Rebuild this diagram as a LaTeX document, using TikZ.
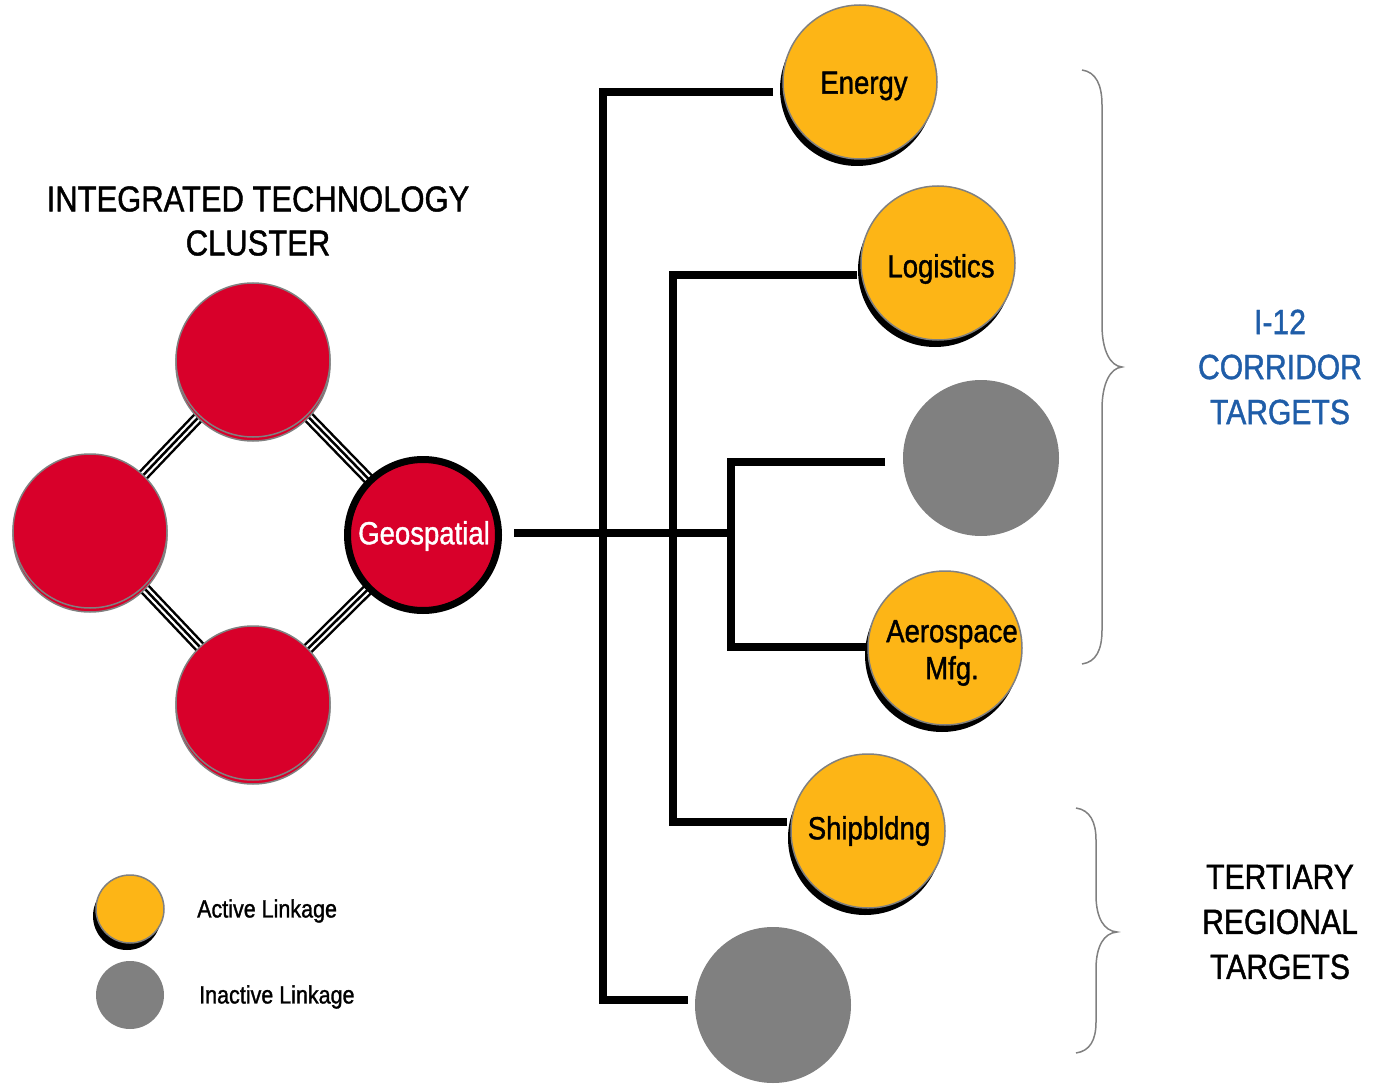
\documentclass[tikz,border=0pt]{standalone}
\usepackage{fontspec}
\setmainfont[FakeStretch=0.86,FakeBold=1.2]{Liberation Sans}
\usetikzlibrary{shadows,backgrounds}
\definecolor{cred}{RGB}{216,0,42}
\definecolor{cyel}{RGB}{253,181,22}
\definecolor{cgray}{RGB}{128,128,128}
\definecolor{cblue}{RGB}{31,93,168}
\begin{document}
\begin{tikzpicture}[x=1pt,y=-1pt,
  redc/.style={circle, fill=cred, draw=cgray, line width=1.5pt, minimum size=154pt, inner sep=0pt,
    drop shadow={shadow xshift=0pt, shadow yshift=-4pt, fill=cred, draw=cgray, opacity=1}},
  geoc/.style={circle, fill=cred, draw=black, line width=7pt, minimum size=151pt, inner sep=0pt},
  yelc/.style={circle, fill=cyel, draw=cgray, line width=1.5pt, minimum size=154pt, inner sep=0pt,
    drop shadow={shadow xshift=-3pt, shadow yshift=-7pt, fill=black, opacity=1}},
  grayc/.style={circle, fill=cgray, draw=none, minimum size=156pt, inner sep=0pt},
  lbl/.style={inner sep=0pt, align=center, font=\fontsize{32}{37}\selectfont},
  link/.style={draw=white, line width=7pt, preaction={draw=black, line width=12pt},
    postaction={draw=black, line width=2.5pt}},
  conn/.style={draw=black, line width=8pt, line join=miter},
  brace/.style={draw=cgray, line width=1.5pt},
  bigtext/.style={align=center, font=\fontsize{35}{45}\selectfont},
  legtext/.style={anchor=west, inner sep=0pt, font=\fontsize{25}{28}\selectfont}
]
\useasboundingbox (0,0) rectangle (1374,1086);

% title
\node[align=center, font=\fontsize{36}{44}\selectfont] (title) at (258,221) {INTEGRATED TECHNOLOGY\\CLUSTER};

% cluster
\node[redc] (rt) at (253,360) {};
\node[redc] (rl) at (90,531) {};
\node[redc] (rb) at (253,703) {};
\node[geoc] (geo) at (423,535) {};
\node[lbl, text=white, font=\fontsize{32}{36}\selectfont] (geot) at (424,536) {Geospatial};
\begin{pgfonlayer}{background}
  \draw[link] (rt.center) -- (geo.center);
  \draw[link] (rt.center) -- (rl.center);
  \draw[link] (rl.center) -- (rb.center);
  \draw[link] (rb.center) -- (geo.center);
\end{pgfonlayer}

% targets
\node[yelc] (energy) at (860,82) {};
\node[lbl] (energyt) at (864,86) {Energy};
\node[yelc] (logi) at (938,263) {};
\node[lbl] (logit) at (941,269) {Logistics};
\node[grayc] (gmid) at (981,458) {};
\node[yelc] (aero) at (945,648) {};
\node[lbl] (aerot) at (952,653) {Aerospace\\Mfg.};
\node[yelc] (ship) at (868,831) {};
\node[lbl] (shipt) at (869,831) {Shipbldng};
\node[grayc] (gbot) at (773,1005) {};

% connector end points
\coordinate (g0) at (514,533);
\coordinate (g1) at (735,533);
\coordinate (e0) at (773,92);
\coordinate (b0) at (688,1000);
\coordinate (l0) at (857,275);
\coordinate (s0) at (787,822);
\coordinate (m0) at (885,462);
\coordinate (a0) at (866,647);

\draw[conn] (g0) -- (g1);
\draw[conn] (e0) -- (603,92) -- (603,1000) -- (b0);
\draw[conn] (l0) -- (673,275) -- (673,822) -- (s0);
\draw[conn] (m0) -- (731,462) -- (731,647) -- (a0);

% braces
\draw[brace] (1082,70) .. controls (1096,72) and (1102,85) .. (1102,105) -- (1102,325)
  .. controls (1102,350) and (1110,366) .. (1122,367)
  .. controls (1110,368) and (1102,384) .. (1102,409) -- (1102,630)
  .. controls (1102,650) and (1096,662) .. (1082,664);
\draw[brace] (1076,808) .. controls (1090,810) and (1096,822) .. (1096,840) -- (1096,895)
  .. controls (1096,918) and (1104,931) .. (1117,932)
  .. controls (1104,933) and (1096,946) .. (1096,969) -- (1096,1022)
  .. controls (1096,1040) and (1090,1051) .. (1076,1053);

\node[bigtext, text=cblue] (corr) at (1280,367) {I-12\\CORRIDOR\\TARGETS};
\node[bigtext] (tert) at (1280,922) {TERTIARY\\REGIONAL\\TARGETS};

% legend
\node[yelc, minimum size=68pt] (ly) at (130,909) {};
\node[grayc, minimum size=68pt] (lg) at (130,995) {};
\node[legtext] (lt1) at (197,911) {Active Linkage};
\node[legtext] (lt2) at (199,997) {Inactive Linkage};
\end{tikzpicture}
\end{document}
